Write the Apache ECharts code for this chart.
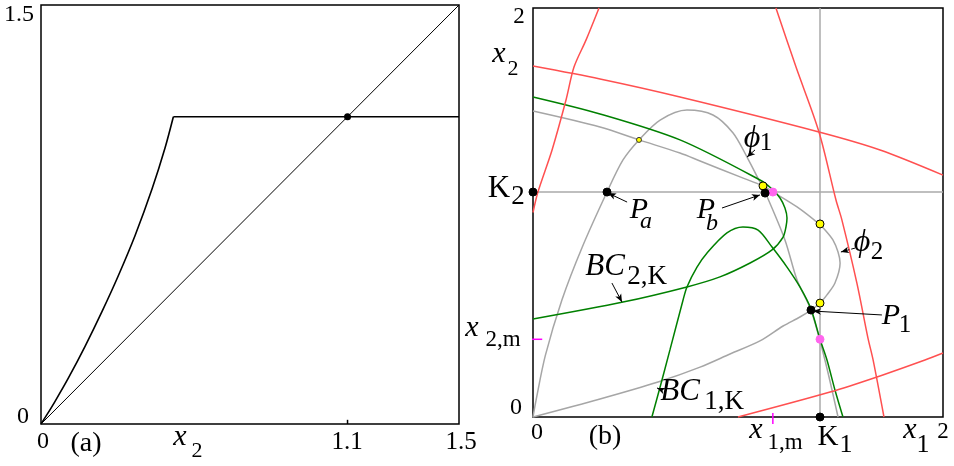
<!DOCTYPE html>
<html>
<head>
<meta charset="utf-8">
<script src="https://cdn.jsdelivr.net/npm/echarts@6/dist/echarts.min.js"></script>
<style>
  html, body { margin: 0; padding: 0; background: #fff; }
  #chart { width: 954px; height: 466px; }
</style>
</head>
<body>
<div id="chart"></div>
<script>
// (a) map x2 -> next x2, diagonal, fixed point
const mapCurve = [[0, 0], [0.023, 0.036], [0.051, 0.082], [0.098, 0.164], [0.159, 0.28], [0.22, 0.405],
  [0.277, 0.53], [0.338, 0.676], [0.399, 0.843], [0.445, 0.988], [0.475, 1.1]]
const mapFlat = [[0.475, 1.1], [1.5, 1.1]]
const diagonal = [[0, 0], [1.5, 1.5]]
const fixedPoint = [[1.1, 1.1]]

// (b) phase plane, x1 horizontal, x2 vertical
const K1 = 1.4
const K2 = 1.1
const x1m = 1.17
const x2m = 0.38

const phi1 = [[0, 0], [0.015, 0.083], [0.06, 0.3], [0.141, 0.572], [0.24, 0.83], [0.361, 1.1], [0.439, 1.257],
  [0.517, 1.355], [0.62, 1.452], [0.751, 1.501], [0.878, 1.477], [0.976, 1.389], [1.044, 1.271], [1.107, 1.149],
  [1.132, 1.1], [1.229, 0.866], [1.288, 0.67], [1.356, 0.523], [1.424, 0.279], [1.488, 0]]
const phi2 = [[0, 0], [0.327, 0.088], [0.61, 0.171], [0.815, 0.244], [0.961, 0.308], [1.107, 0.372], [1.22, 0.445],
  [1.302, 0.489], [1.356, 0.523], [1.4, 0.557], [1.434, 0.597], [1.473, 0.655], [1.498, 0.753], [1.488, 0.807],
  [1.463, 0.866], [1.429, 0.91], [1.395, 0.944], [1.288, 1.027], [1.171, 1.1], [1.122, 1.13], [1.01, 1.174],
  [0.815, 1.252], [0.717, 1.291], [0.517, 1.355], [0.327, 1.418], [0, 1.496]]
const bc2K = [[0, 1.565], [0.327, 1.482], [0.717, 1.355], [1.107, 1.159], [1.166, 1.115], [1.205, 1.071],
  [1.229, 1.022], [1.239, 0.973], [1.234, 0.929], [1.22, 0.88], [1.166, 0.817], [1.059, 0.753], [0.912, 0.685],
  [0.751, 0.636], [0.439, 0.562], [0, 0.479]]
const bc1K = [[0.58, 0], [0.62, 0.147], [0.668, 0.328], [0.732, 0.572], [0.751, 0.636], [0.8, 0.733], [0.849, 0.802],
  [0.946, 0.9], [1.024, 0.929], [1.098, 0.914], [1.166, 0.831], [1.239, 0.733], [1.302, 0.636], [1.356, 0.528],
  [1.4, 0.38], [1.434, 0.279], [1.473, 0.132], [1.512, 0]]
const redCurves = [
  [[0.322, 2], [0.259, 1.844], [0.2, 1.711], [0.161, 1.55], [0.093, 1.306], [0.024, 1.1], [0, 1.0]],
  [[0, 1.716], [0.327, 1.653], [0.717, 1.565], [1.395, 1.394], [1.693, 1.306], [2, 1.183]],
  [[1.185, 2], [1.283, 1.711], [1.395, 1.394], [1.478, 1.061], [1.507, 0.963], [1.58, 0.655], [1.634, 0.386],
    [1.659, 0.279], [1.712, 0]],
  [[1.0, 0], [1.449, 0.122], [1.678, 0.196], [1.912, 0.279], [2, 0.313]],
]
const blackDots = [[0, K2], [0.361, K2], [1.132, 1.095], [1.356, 0.523], [K1, 0]]
const yellowDots = [[1.122, 1.13], [K1, 0.944], [K1, 0.557]]
const smallYellow = [[0.517, 1.355]]
const magentaDots = [[x1m, K2], [K1, x2m]]

// annotation arrows: [from, to]
const arrows = [
  [[1.083, 1.306], [1.044, 1.271]],
  [[0.459, 1.051], [0.366, 1.095]],
  [[0.922, 1.022], [1.107, 1.086]],
  [[0.385, 0.655], [0.434, 0.562]],
  [[0.629, 0.132], [0.605, 0.142]],
  [[1.702, 0.499], [1.366, 0.518]],
]
const dashedArrows = [
  [[1.571, 0.826], [1.502, 0.807]],
]

// [text, x, y, size, italic]
const labels = [
  ['1.5', 19, 15, 24], ['0', 23, 417, 24], ['0', 43, 442, 24], ['(a)', 86, 444, 28],
  ['x', 180, 437, 30, true], ['2', 197, 451, 22], ['1.1', 347, 442, 25], ['1.5', 461, 442, 25],
  ['2', 519, 17, 23], ['x', 499, 54, 30, true], ['2', 513, 69, 22],
  ['K', 499, 189, 31], ['2', 518, 197, 27],
  ['x', 472, 328, 30, true], ['2,m', 503, 340, 23],
  ['0', 516, 408, 24], ['0', 537, 433, 24], ['(b)', 605, 437, 28],
  ['x', 756, 430, 30, true], ['1,m', 785, 443, 23],
  ['K', 828, 437, 29], ['1', 846, 445, 26],
  ['x', 910, 430, 30, true], ['1', 923, 445, 26], ['2', 943, 432, 23],
  ['ϕ', 752, 139, 32, true], ['1', 766, 143, 25],
  ['ϕ', 862, 243, 32, true], ['2', 877, 252, 25],
  ['P', 639, 210, 30, true], ['a', 646, 222, 24, true],
  ['P', 706, 210, 30, true], ['b', 712, 224, 24, true],
  ['P', 891, 316, 30, true], ['1', 905, 325, 25],
  ['BC', 605, 267, 31, true], ['2,K', 647, 277, 27],
  ['BC', 680, 392, 31, true], ['1,K', 724, 402, 27],
]

function curve(data, color, width, grid) {
  return {
    type: 'line', data, xAxisIndex: grid, yAxisIndex: grid,
    showSymbol: false, smooth: 0.3, clip: false,
    lineStyle: { color, width },
  }
}

function dots(data, color, size, border) {
  return {
    type: 'scatter', data, xAxisIndex: 1, yAxisIndex: 1, symbolSize: size, clip: false, z: 10,
    itemStyle: { color, borderColor: border || color, borderWidth: 1, opacity: 1 },
  }
}

function segment(data, color, grid) {
  return {
    type: 'line', data, xAxisIndex: grid, yAxisIndex: grid, showSymbol: false, clip: false,
    lineStyle: { color, width: 1.5 },
  }
}

const series = [
  curve(mapCurve, '#000', 1.6, 0),
  { ...curve(mapFlat, '#000', 1.6, 0), smooth: false },
  { ...curve(diagonal, '#000', 1, 0), smooth: false },
  segment([[1.1, 0], [1.1, 0.015]], '#000', 0),
  {
    type: 'scatter', data: fixedPoint, xAxisIndex: 0, yAxisIndex: 0, symbolSize: 7,
    itemStyle: { color: '#000', opacity: 1 },
  },

  { ...curve([[K1, 0], [K1, 2]], '#aaa', 1.5, 1), smooth: false },
  { ...curve([[0, K2], [2, K2]], '#aaa', 1.5, 1), smooth: false },
  curve(phi1, '#a6a6a6', 1.5, 1),
  curve(phi2, '#a6a6a6', 1.5, 1),
  curve(bc2K, '#008000', 1.5, 1),
  curve(bc1K, '#008000', 1.5, 1),
  ...redCurves.map(c => curve(c, '#ff5050', 1.5, 1)),
  segment([[x1m, -0.034], [x1m, 0.02]], '#ff00ff', 1),
  segment([[-0.03, x2m], [0.045, x2m]], '#ff00ff', 1),
  dots(smallYellow, '#ffff00', 5, '#333'),
  dots(yellowDots, '#ffff00', 8, '#000'),
  dots(magentaDots, '#ff66ee', 8),
  dots(blackDots, '#000', 8),
  {
    type: 'line', data: [], xAxisIndex: 1, yAxisIndex: 1,
    markLine: {
      silent: true, animation: false,
      symbol: ['none', 'arrow'], symbolSize: [5, 8],
      label: { show: false },
      lineStyle: { color: '#000', width: 1, type: 'solid' },
      data: arrows.map(a => [{ coord: a[0] }, { coord: a[1] }])
        .concat(dashedArrows.map(a => [{ coord: a[0], lineStyle: { type: 'dashed' } }, { coord: a[1] }])),
    },
  },
]

const chart = echarts.init(document.getElementById('chart'))
chart.setOption({
  animation: false,
  backgroundColor: '#fff',
  grid: [
    { left: 41, top: 5, width: 418, height: 419, show: true, borderColor: '#000', borderWidth: 1.5 },
    { left: 533, top: 8, width: 410, height: 409, show: true, borderColor: '#000', borderWidth: 1.5 },
  ],
  xAxis: [
    { type: 'value', gridIndex: 0, min: 0, max: 1.5, show: false },
    { type: 'value', gridIndex: 1, min: 0, max: 2, show: false },
  ],
  yAxis: [
    { type: 'value', gridIndex: 0, min: 0, max: 1.5, show: false },
    { type: 'value', gridIndex: 1, min: 0, max: 2, show: false },
  ],
  series,
  graphic: labels.map(([text, x, y, size, italic]) => ({
    type: 'text', x, y, silent: true, z: 100,
    style: {
      text, fill: '#000', align: 'center', verticalAlign: 'middle',
      fontFamily: 'Liberation Serif', fontSize: size, fontStyle: italic ? 'italic' : 'normal',
    },
  })),
})
</script>
</body>
</html>
